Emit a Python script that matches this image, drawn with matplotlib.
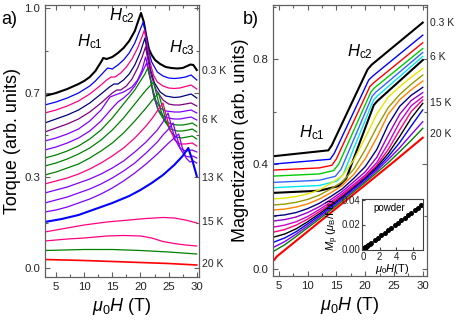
import matplotlib
matplotlib.use("Agg")
import matplotlib.pyplot as plt
from matplotlib.ticker import MultipleLocator, FixedLocator

plt.rcParams['font.family'] = ['Liberation Sans', 'DejaVu Sans']
plt.rcParams['mathtext.fontset'] = 'custom'
plt.rcParams['mathtext.rm'] = 'Liberation Sans'
plt.rcParams['mathtext.it'] = 'Liberation Sans:italic'

# ---------------- Panel a: torque (arb. units, stacked) ----------------
tq_colors = ['black', '#0000ff', '#ff0080', '#000080', '#800080', '#8000ff', '#8000ff',
             '#008000', '#008000', '#008000', '#ff0080', '#8000ff', '#8000ff', '#8000ff',
             '#0000ff', '#ff0080', '#ff0080', '#008000', '#ff0000']
tq_widths = [1.5, 0.9, 0.9, 0.9, 0.9, 0.9, 0.9, 0.9, 0.9, 0.9, 0.9, 0.9, 0.9, 0.9,
             1.5, 0.9, 0.9, 0.9, 1.2]

tq00_H = [3, 5, 7, 9, 10, 11, 12, 13, 13.4, 14, 15, 16, 17, 18, 19, 19.6, 20.1, 20.6, 21, 21.5, 22, 22.6, 23.5, 24.5, 25.5, 26.5, 27.5, 28.3, 28.9, 29.4, 30]
tq00_y = [172, 175, 179, 184, 187, 191, 197, 206, 210, 209, 211, 215, 220, 227, 237, 247, 255, 246, 233, 219, 213, 208, 204, 201, 200, 199.5, 200, 202, 203.5, 203, 198]
tq01_H = [3, 5, 7, 9, 11, 12, 13, 14, 14.2, 15, 16, 17, 18, 19, 20, 20.5, 21, 21.5, 22, 23, 24, 25, 26, 27, 28, 29, 30]
tq01_y = [163, 166, 170, 175, 182, 187, 193, 199, 200, 199, 203, 208, 215, 225, 239, 246, 233, 216, 206, 196, 192, 190, 189.5, 190, 191, 193, 188]
tq02_H = [3, 5, 7, 9, 11, 13, 14, 14.8, 15.5, 16.5, 17.5, 18.5, 19.5, 20.2, 20.7, 21.2, 21.7, 22.3, 23, 24, 25, 26, 27, 28, 29, 30]
tq02_y = [155, 158, 162, 167, 174, 183, 188, 191, 191, 195, 201, 209, 220, 230, 238, 223, 206, 193, 186, 182, 180, 179.5, 180, 181.5, 183, 179]
tq03_H = [3, 5, 7, 9, 11, 13, 14.5, 15.3, 16, 17, 18, 19, 20, 20.8, 21.3, 21.8, 22.5, 23.5, 24.5, 26, 27, 28, 29, 30]
tq03_y = [145, 149, 153, 158, 165, 174, 181, 184, 184, 188, 194, 203, 216, 230, 213, 198, 185, 176, 172, 170.5, 171, 172.5, 174, 170]
tq04_H = [3, 5, 7, 9, 11, 13, 15, 15.8, 16.5, 17.5, 18.5, 19.5, 20.3, 20.9, 21.4, 22, 22.8, 24, 25, 26, 27, 28, 29, 30]
tq04_y = [136, 140, 144, 149, 156, 165, 175, 178, 178, 182, 189, 200, 211, 221, 206, 191, 178, 168, 164, 163, 163, 164, 165, 162]
tq05_H = [3, 5, 7, 9, 11, 13, 14.6, 15.5, 17, 18.5, 19.5, 20.3, 20.9, 21.5, 22, 22.7, 23.5, 24.5, 26, 27, 28, 29, 30]
tq05_y = [127, 130, 134, 139, 147, 158, 171, 173, 176, 181, 188, 198, 211, 198, 183, 168, 160, 157, 156, 156, 157, 158, 155]
tq06_H = [3, 5, 7, 9, 11, 13, 15, 16, 17, 18, 19, 20, 20.6, 21.1, 21.7, 22.3, 23, 24, 25, 26, 27, 28, 29, 30]
tq06_y = [118, 121, 125, 130, 137, 147, 160, 166, 170, 175, 182, 192, 199, 205, 190, 173, 160, 152, 150, 149, 149, 150, 151, 148]
tq07_H = [3, 5, 7, 9, 11, 13, 15, 17, 18, 19, 20, 20.8, 21.3, 21.9, 22.5, 23.3, 24.3, 25.5, 26.5, 27.5, 28.5, 29.2, 30]
tq07_y = [110, 113, 117, 122, 129, 138, 150, 164, 171, 178, 187, 194, 200, 186, 170, 156, 147, 144, 143, 143, 144, 145, 142]
tq08_H = [3, 5, 7, 9, 11, 13, 15, 17, 19, 20, 21, 21.7, 22.3, 22.9, 23.6, 24.4, 25.3, 26.5, 27.5, 28.5, 29.2, 30]
tq08_y = [102, 105, 109, 114, 120, 128, 138, 150, 164, 171, 178, 182, 186, 173, 158, 146, 139, 137, 137, 138, 139, 136]
tq09_H = [3, 5, 7, 9, 11, 13, 15, 17, 19, 21, 22, 22.6, 23.2, 23.8, 24.5, 25.3, 26.3, 27.3, 28.3, 29.2, 30]
tq09_y = [93, 96, 100, 104, 110, 117, 125, 135, 147, 160, 167, 171, 175, 163, 148, 137, 131, 130, 131, 132, 129]
tq10_H = [3, 5, 7, 9, 11, 13, 15, 17, 19, 21, 22, 23, 24, 24.6, 25.3, 26.1, 27, 28, 29.2, 30]
tq10_y = [84, 87, 90, 94, 99, 105, 112, 120, 130, 142, 149, 157, 165, 152, 138, 128, 124, 124, 125, 122]
tq11_H = [3, 5, 7, 9, 11, 13, 15, 17, 19, 21, 23, 24, 24.9, 25.5, 26.2, 27, 28, 29.2, 30]
tq11_y = [75, 78, 81, 85, 89, 94, 100, 107, 116, 126, 138, 146, 155, 142, 128, 120, 117, 118, 116]
tq12_H = [3, 5, 7, 9, 11, 13, 15, 17, 19, 21, 23, 24, 25, 25.8, 26.4, 27.1, 27.9, 28.7, 29.3, 30]
tq12_y = [65, 68, 71, 75, 79, 84, 90, 97, 105, 115, 126, 133, 139, 145, 132, 119, 112, 111, 112, 110]
tq13_H = [3, 5, 7, 9, 11, 13, 15, 17, 19, 21, 23, 25, 26, 26.8, 27.4, 28.1, 28.8, 29.4, 30]
tq13_y = [56, 58, 61, 65, 69, 74, 80, 87, 95, 104, 114, 125, 130, 134, 121, 110, 106, 107, 105]
tq14_H = [3, 6, 9, 12, 15, 18, 20, 22, 24, 26, 27.5, 28.5, 29.2, 30]
tq14_y = [46, 49, 53, 59, 65, 72, 78, 85, 93, 103, 112, 120, 108, 92]
tq15_H = [3, 6, 10, 14, 18, 21, 24, 26, 28, 30]
tq15_y = [36, 39, 43, 46, 48, 49.5, 50.5, 50, 48, 45]
tq16_H = [3, 7, 10, 14, 17, 20, 22, 24, 26, 28, 30]
tq16_y = [27, 29, 30, 32, 32.5, 32, 30, 26.5, 24.5, 23, 22]
tq17_H = [3, 10, 15, 20, 25, 30]
tq17_y = [17.5, 18.5, 18.5, 17.5, 16, 14]
tq18_H = [3, 10, 15, 20, 25, 30]
tq18_y = [8.5, 7.5, 6.5, 5.5, 4.5, 3]

tq_H_all = [tq00_H, tq01_H, tq02_H, tq03_H, tq04_H, tq05_H, tq06_H, tq07_H, tq08_H, tq09_H,
            tq10_H, tq11_H, tq12_H, tq13_H, tq14_H, tq15_H, tq16_H, tq17_H, tq18_H]
tq_y_all = [tq00_y, tq01_y, tq02_y, tq03_y, tq04_y, tq05_y, tq06_y, tq07_y, tq08_y, tq09_y,
            tq10_y, tq11_y, tq12_y, tq13_y, tq14_y, tq15_y, tq16_y, tq17_y, tq18_y]

tq_ytick_pos = [0, 91, 175, 260]
tq_ytick_labels = ['0.0', '0.3', '0.7', '1.0']
tq_ytick_minor = [45, 133, 217]
tq_T_labels = ['0.3 K', '6 K', '13 K', '15 K', '20 K']
tq_T_label_y = [197, 148, 90, 46, 4]

# ---------------- Panel b: magnetization ----------------
mb_colors = ['black', '#0000ff', '#ff0000', '#00cc00', '#3366ff', '#00e5ee', 'black',
             '#e6e600', '#999900', '#ff8000', '#000080', '#9900cc', '#cc00cc', '#ff0080',
             'black', '#0000ff', '#8000ff', '#008000', '#ff0000']
mb_widths = [1.5, 1.0, 1.0, 1.0, 1.0, 1.0, 1.5, 1.0, 1.0, 1.0, 1.0, 1.0, 1.0, 1.0,
             1.0, 1.0, 1.0, 1.0, 1.5]

mb00_H = [4.2, 13.6, 14.2, 20.4, 21.1, 30]
mb00_M = [0.43, 0.452, 0.472, 0.76, 0.778, 0.939]
mb01_H = [4.2, 13.9, 14.6, 20.6, 21.3, 30]
mb01_M = [0.40, 0.418, 0.44, 0.72, 0.735, 0.891]
mb02_H = [4.2, 12, 14.2, 15.0, 20.8, 21.5, 30]
mb02_M = [0.377, 0.385, 0.395, 0.42, 0.695, 0.71, 0.862]
mb03_H = [4.2, 12, 14.5, 15.4, 21.0, 21.6, 30]
mb03_M = [0.354, 0.362, 0.375, 0.40, 0.675, 0.69, 0.840]
mb04_H = [4.2, 12, 14.8, 15.8, 21.2, 21.8, 30]
mb04_M = [0.33, 0.338, 0.353, 0.38, 0.658, 0.673, 0.825]
mb05_H = [4.2, 12, 15.1, 16.2, 21.4, 22.0, 30]
mb05_M = [0.31, 0.318, 0.335, 0.362, 0.642, 0.657, 0.81]
mb06_H = [4.2, 12, 15.4, 16.7, 21.5, 22.1, 30]
mb06_M = [0.29, 0.298, 0.316, 0.345, 0.625, 0.64, 0.796]

mb_grid_H = [4.2, 6, 8, 10, 12, 14, 16, 18, 20, 22, 24, 26, 28, 30]
mb07_M = [0.267, 0.27, 0.276, 0.286, 0.301, 0.326, 0.355, 0.415, 0.50, 0.59, 0.655, 0.695, 0.731, 0.764]
mb08_M = [0.244, 0.247, 0.254, 0.265, 0.281, 0.305, 0.332, 0.38, 0.455, 0.54, 0.615, 0.665, 0.704, 0.739]
mb09_M = [0.225, 0.228, 0.236, 0.248, 0.266, 0.29, 0.318, 0.36, 0.42, 0.50, 0.59, 0.645, 0.683, 0.716]
mb10_M = [0.202, 0.206, 0.215, 0.23, 0.25, 0.276, 0.305, 0.345, 0.39, 0.455, 0.55, 0.62, 0.662, 0.692]
mb11_M = [0.183, 0.188, 0.198, 0.215, 0.237, 0.264, 0.295, 0.332, 0.37, 0.425, 0.51, 0.59, 0.642, 0.672]
mb12_M = [0.16, 0.167, 0.18, 0.20, 0.226, 0.255, 0.287, 0.322, 0.358, 0.405, 0.478, 0.56, 0.622, 0.656]
mb13_M = [0.141, 0.15, 0.167, 0.19, 0.218, 0.248, 0.281, 0.316, 0.352, 0.395, 0.455, 0.53, 0.600, 0.644]
mb14_M = [0.122, 0.133, 0.153, 0.18, 0.21, 0.242, 0.275, 0.31, 0.346, 0.388, 0.44, 0.505, 0.575, 0.631]
mb15_M = [0.103, 0.118, 0.142, 0.172, 0.203, 0.236, 0.27, 0.306, 0.342, 0.382, 0.428, 0.482, 0.545, 0.606]
mb16_M = [0.084, 0.104, 0.133, 0.164, 0.197, 0.23, 0.265, 0.30, 0.336, 0.375, 0.417, 0.462, 0.512, 0.561]
mb17_M = [0.069, 0.092, 0.124, 0.157, 0.19, 0.224, 0.259, 0.294, 0.33, 0.367, 0.405, 0.447, 0.49, 0.536]
mb18_H = [4.2, 4.6, 10, 15, 20, 25, 30]
mb18_M = [0.035, 0.047, 0.143, 0.232, 0.320, 0.409, 0.50]

mb_H_all = [mb00_H, mb01_H, mb02_H, mb03_H, mb04_H, mb05_H, mb06_H] + [mb_grid_H] * 11 + [mb18_H]
mb_M_all = [mb00_M, mb01_M, mb02_M, mb03_M, mb04_M, mb05_M, mb06_M,
            mb07_M, mb08_M, mb09_M, mb10_M, mb11_M, mb12_M, mb13_M, mb14_M, mb15_M, mb16_M, mb17_M,
            mb18_M]
mb_T_labels = ['0.3 K', '6 K', '15 K', '20 K']
mb_T_label_M = [0.937, 0.808, 0.633, 0.515]

# inset: powder
pw_H = [0, 0.05, 0.1, 0.15, 0.2, 0.3, 0.4, 0.5, 0.6, 0.8, 1.0, 1.4, 1.8, 2.2, 2.6, 3.0, 3.4,
        3.8, 4.2, 4.6, 5.0, 5.4, 5.8, 6.2, 6.6, 7.0]
pw_M = [0, 0.0003, 0.0005, 0.0008, 0.001, 0.0015, 0.002, 0.0026, 0.0031, 0.0041, 0.0051,
        0.0071, 0.0092, 0.0112, 0.0133, 0.0153, 0.0173, 0.0194, 0.0214, 0.0235, 0.0255,
        0.0275, 0.0296, 0.0316, 0.0337, 0.0357]

W, H = 463, 324
fig = plt.figure(figsize=(W / 100, H / 100), dpi=100)

def rect(l, r, t, b):
    return [l / W, 1 - b / H, (r - l) / W, (b - t) / H]

spine_col = '#606060'
tick_fs = 8.2

def style(ax):
    for s in ax.spines.values():
        s.set_color(spine_col)
        s.set_linewidth(0.9)
    ax.tick_params(which='both', direction='in', top=True, right=True, colors=spine_col,
                   labelcolor='#222222', labelsize=tick_fs, width=0.8)
    ax.tick_params(which='major', length=3.5)
    ax.tick_params(which='minor', length=2)

# Panel a
axa = fig.add_axes(rect(45, 199, 5, 277))
for Hs, ys, c, lw in zip(tq_H_all, tq_y_all, tq_colors, tq_widths):
    axa.plot(Hs, ys, color=c, lw=lw, solid_joinstyle='round')
axa.set_xlim(3.05, 30.4)
axa.set_ylim(-9, 263)
axa.xaxis.set_major_locator(MultipleLocator(5))
axa.xaxis.set_minor_locator(MultipleLocator(2.5))
axa.set_yticks(tq_ytick_pos)
axa.set_yticklabels(tq_ytick_labels)
axa.yaxis.set_minor_locator(FixedLocator(tq_ytick_minor))
style(axa)
axa.set_xlabel(r'$\mu_0H$ (T)', fontsize=13, labelpad=3)
axa.set_ylabel('Torque (arb. units)', fontsize=13, labelpad=2)
for lab, yv in zip(tq_T_labels, tq_T_label_y):
    axa.text(1.02, yv, lab, transform=axa.get_yaxis_transform(), fontsize=7.5,
             va='center', ha='left', color='#222222')
axa.text(11.0, 226, r'$H_{\rm c1}$', fontsize=12, ha='center', va='center')
axa.text(16.7, 252, r'$H_{\rm c2}$', fontsize=12, ha='center', va='center')
axa.text(27.4, 220, r'$H_{\rm c3}$', fontsize=12, ha='center', va='center')
fig.text(1 / W, 1 - 20 / H, 'a)', fontsize=13, ha='left', va='center')

# Panel b
axb = fig.add_axes(rect(273, 427, 5, 276))
for Hs, Ms, c, lw in zip(mb_H_all, mb_M_all, mb_colors, mb_widths):
    axb.plot(Hs, Ms, color=c, lw=lw, solid_joinstyle='round')
axb.set_xlim(3.96, 30.74)
axb.set_ylim(-0.027, 1.006)
axb.xaxis.set_major_locator(MultipleLocator(5))
axb.xaxis.set_minor_locator(MultipleLocator(2.5))
axb.set_yticks([0.0, 0.4, 0.8])
axb.set_yticklabels(['0.0', '0.4', '0.8'])
axb.yaxis.set_minor_locator(FixedLocator([0.2, 0.6, 1.0]))
style(axb)
axb.set_xlabel(r'$\mu_0H$ (T)', fontsize=13, labelpad=3)
axb.set_ylabel('Magnetization (arb. units)', fontsize=13, labelpad=2)
for lab, mv in zip(mb_T_labels, mb_T_label_M):
    axb.text(1.02, mv, lab, transform=axb.get_yaxis_transform(), fontsize=7.5,
             va='center', ha='left', color='#222222')
axb.text(19.0, 0.83, r'$H_{\rm c2}$', fontsize=12, ha='center', va='center')
axb.text(10.8, 0.52, r'$H_{\rm c1}$', fontsize=12, ha='center', va='center')
fig.text(243 / W, 1 - 19 / H, 'b)', fontsize=13, ha='left', va='center')

# inset
axi = fig.add_axes(rect(362, 423, 199, 250))
axi.plot(pw_H, pw_M, 'o', color='black', ms=2.6, mec='black')
axi.set_xlim(-0.1, 7.2)
axi.set_ylim(-0.0008, 0.0408)
axi.set_xticks([0, 2, 4, 6])
axi.set_yticks([0.00, 0.02, 0.04])
axi.set_yticklabels(['0.00', '0.02', '0.04'])
for s in axi.spines.values():
    s.set_color('#404040')
    s.set_linewidth(0.8)
axi.tick_params(which='both', direction='in', labelsize=7, length=2, colors='#404040',
                labelcolor='#222222', pad=1.5)
axi.text(0.18, 0.83, 'powder', transform=axi.transAxes, fontsize=7, ha='left', va='center')
axi.set_xlabel(r'$\mu_0H$(T)', fontsize=8, labelpad=0)
axi.set_ylabel(r'$M_{\rm p}$ ($\mu_{\rm B}$/f.u)', fontsize=8, labelpad=0)

fig.savefig('out.png', dpi=100)
